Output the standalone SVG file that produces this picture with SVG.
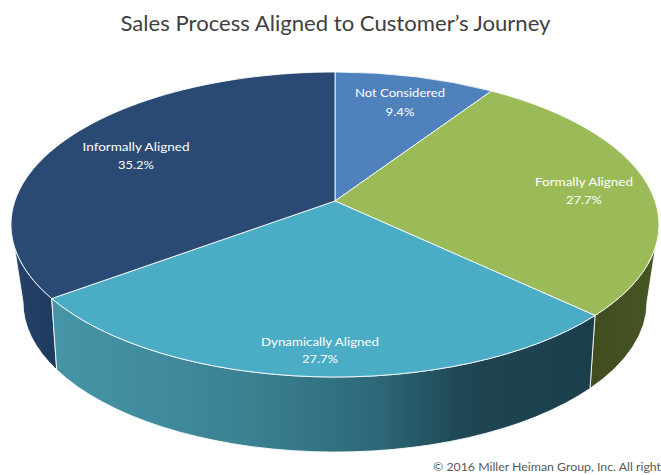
<svg xmlns="http://www.w3.org/2000/svg" width="661" height="475" viewBox="0 0 661 475">
  <defs>
    <linearGradient id="gDynSide" gradientUnits="userSpaceOnUse" x1="56" y1="0" x2="590" y2="0">
      <stop offset="0" stop-color="#4595a7"/>
      <stop offset="0.35" stop-color="#3b8293"/>
      <stop offset="0.6" stop-color="#2d6878"/>
      <stop offset="0.76" stop-color="#1f4654"/>
      <stop offset="1" stop-color="#1b3e4b"/>
    </linearGradient>
    <linearGradient id="gInfSide" gradientUnits="userSpaceOnUse" x1="11" y1="0" x2="57" y2="0">
      <stop offset="0" stop-color="#25426a"/>
      <stop offset="1" stop-color="#1f3a5e"/>
    </linearGradient>
    <linearGradient id="gForSide" gradientUnits="userSpaceOnUse" x1="590" y1="0" x2="659" y2="0">
      <stop offset="0" stop-color="#404d1f"/>
      <stop offset="1" stop-color="#475625"/>
    </linearGradient>
  </defs>
  <style>
    .edge { stroke: #ffffff; stroke-width: 1; stroke-opacity: 0.85; stroke-linejoin: round; }
    .lbl { font-family: Lato, "Open Sans", "Liberation Sans", sans-serif; font-size: 12px; fill: #ffffff; text-anchor: middle; }
    .title { font-family: Lato, "Open Sans", "Liberation Sans", sans-serif; font-size: 21px; fill: #404040; text-anchor: middle; }
    .copy { font-family: Lato, "Open Sans", "Liberation Sans", sans-serif; font-size: 12px; fill: #595959; }
  </style>
  <rect width="661" height="475" fill="#ffffff"/>

  <text class="title" x="335.5" y="31" textLength="430" lengthAdjust="spacingAndGlyphs">Sales Process Aligned to Customer’s Journey</text>

  <g id="sides">
    <path id="side-informally" class="edge" fill="url(#gInfSide)" d="M 11,224.5 A 324 152.5 0 0 0 51.7,298.5 L 56.7,369.8 A 312 150 0 0 1 23,302 Z"/>
    <path id="side-formally" class="edge" fill="url(#gForSide)" d="M 595,315.5 A 324 152.5 0 0 0 659,224.5 L 647,302 A 312 150 0 0 1 590,388.5 Z"/>
    <path id="side-dynamically" class="edge" fill="url(#gDynSide)" d="M 51.7,298.5 A 324 152.5 0 0 0 595,315.5 L 590,388.5 A 312 150 0 0 1 56.7,369.8 Z"/>
  </g>

  <g id="slice-not-considered">
    <path class="edge" fill="#4f81bd" d="M 335,201 L 335,72 A 324 152.5 0 0 1 491.5,91 Z"/>
    <text class="lbl" x="400" y="97" textLength="90" lengthAdjust="spacingAndGlyphs">Not Considered</text>
    <text class="lbl" x="400" y="116" textLength="29" lengthAdjust="spacingAndGlyphs">9.4%</text>
  </g>
  <g id="slice-formally-aligned">
    <path class="edge" fill="#9bbb59" d="M 335,201 L 491.5,91 A 324 152.5 0 0 1 595,315.5 Z"/>
    <text class="lbl" x="584" y="186" textLength="98" lengthAdjust="spacingAndGlyphs">Formally Aligned</text>
    <text class="lbl" x="584" y="204" textLength="36" lengthAdjust="spacingAndGlyphs">27.7%</text>
  </g>
  <g id="slice-dynamically-aligned">
    <path class="edge" fill="#4bacc6" d="M 335,201 L 595,315.5 A 324 152.5 0 0 1 51.7,298.5 Z"/>
    <text class="lbl" x="320" y="346" textLength="118" lengthAdjust="spacingAndGlyphs">Dynamically Aligned</text>
    <text class="lbl" x="320" y="363" textLength="36" lengthAdjust="spacingAndGlyphs">27.7%</text>
  </g>
  <g id="slice-informally-aligned">
    <path class="edge" fill="#2a4a74" d="M 335,201 L 51.7,298.5 A 324 152.5 0 0 1 335,72 Z"/>
    <text class="lbl" x="136" y="151" textLength="107" lengthAdjust="spacingAndGlyphs">Informally Aligned</text>
    <text class="lbl" x="136" y="169" textLength="36" lengthAdjust="spacingAndGlyphs">35.2%</text>
  </g>

  <text class="copy" x="433" y="471" textLength="228" lengthAdjust="spacingAndGlyphs">© 2016 Miller Heiman Group, Inc. All right</text>
</svg>
